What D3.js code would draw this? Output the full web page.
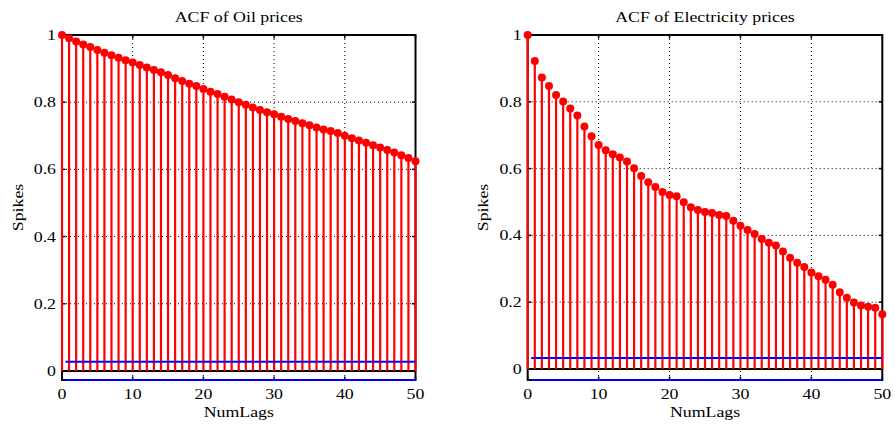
<!DOCTYPE html>
<html>
<head>
<meta charset="utf-8">
<script src="https://cdn.jsdelivr.net/npm/d3@7"></script>
<style>
  html, body { margin: 0; padding: 0; background: #fff; }
  svg { display: block; }
  text { font-family: "Liberation Serif", "Times New Roman", serif; fill: #000; }
</style>
</head>
<body>
<svg id="chart" width="895" height="426"></svg>
<script>
// ---- data ----
const lags = [0,1,2,3,4,5,6,7,8,9,10,11,12,13,14,15,16,17,18,19,20,21,22,23,24,25,26,27,28,29,30,31,32,33,34,35,36,37,38,39,40,41,42,43,44,45,46,47,48,49,50];
const oilAcf = [1.000,0.990,0.981,0.972,0.964,0.955,0.947,0.940,0.932,0.925,0.918,0.911,0.903,0.896,0.889,0.881,0.871,0.863,0.855,0.848,0.839,0.831,0.824,0.816,0.808,0.800,0.792,0.784,0.777,0.770,0.764,0.757,0.750,0.744,0.737,0.731,0.725,0.719,0.714,0.708,0.700,0.693,0.686,0.679,0.672,0.665,0.658,0.650,0.642,0.634,0.624];
const elecAcf = [1.000,0.922,0.873,0.847,0.820,0.801,0.780,0.759,0.726,0.697,0.671,0.655,0.643,0.633,0.621,0.601,0.578,0.559,0.545,0.530,0.521,0.517,0.499,0.484,0.476,0.470,0.467,0.461,0.458,0.444,0.429,0.416,0.404,0.389,0.378,0.370,0.352,0.333,0.318,0.305,0.289,0.278,0.267,0.252,0.230,0.213,0.199,0.190,0.186,0.183,0.164];
const oilBound = 0.027;
const elecBound = 0.033;
const xTicks = [0,10,20,30,40,50];
const yTicks = [0,0.2,0.4,0.6,0.8,1];
const titles = ["ACF of Oil prices", "ACF of Electricity prices"];
const xLabel = "NumLags";
const yLabel = "Spikes";

const svg = d3.select("#chart");
const FS = 15.5, SX = 1.15;

function label(g, x, y, txt, anchor, rot) {
  g.append("text")
    .attr("transform", `translate(${x},${y})${rot ? " rotate(" + rot + ")" : ""} scale(${SX},1)`)
    .attr("text-anchor", anchor).attr("font-size", FS).text(txt);
}

function panel(left, right, values, bound, title) {
  const top = 35, bottom = 380;
  const x = d3.scaleLinear().domain([0, 50]).range([left, right]);
  const y = d3.scaleLinear().domain([-bound, 1]).range([bottom, top]);
  const g = svg.append("g");

  // grid
  g.selectAll(".gx").data(xTicks.filter(t => t > 0 && t < 50)).join("line")
    .attr("x1", d => x(d)).attr("x2", d => x(d)).attr("y1", top).attr("y2", bottom)
    .attr("stroke", "#000").attr("stroke-width", 1).attr("stroke-dasharray", "1,3");
  g.selectAll(".gy").data(yTicks.filter(t => t > 0 && t < 1)).join("line")
    .attr("x1", left).attr("x2", right).attr("y1", d => y(d)).attr("y2", d => y(d))
    .attr("stroke", "#000").attr("stroke-width", 1).attr("stroke-dasharray", "1,3");

  // box
  g.append("rect").attr("x", left).attr("y", top).attr("width", right - left).attr("height", bottom - top)
    .attr("fill", "none").attr("stroke", "#000").attr("stroke-width", 2);

  // ticks (inside, all sides)
  const tl = 3.5;
  xTicks.forEach(t => {
    g.append("line").attr("x1", x(t)).attr("x2", x(t)).attr("y1", bottom).attr("y2", bottom - tl).attr("stroke", "#000").attr("stroke-width", 1.5);
    g.append("line").attr("x1", x(t)).attr("x2", x(t)).attr("y1", top).attr("y2", top + tl).attr("stroke", "#000").attr("stroke-width", 1.5);
  });
  yTicks.forEach(t => {
    g.append("line").attr("x1", left).attr("x2", left + tl).attr("y1", y(t)).attr("y2", y(t)).attr("stroke", "#000").attr("stroke-width", 1.5);
    g.append("line").attr("x1", right).attr("x2", right - tl).attr("y1", y(t)).attr("y2", y(t)).attr("stroke", "#000").attr("stroke-width", 1.5);
  });

  // baseline
  g.append("line").attr("x1", left).attr("x2", right).attr("y1", y(0)).attr("y2", y(0))
    .attr("stroke", "#000").attr("stroke-width", 2);

  // stems
  g.selectAll(".stem").data(values).join("line")
    .attr("x1", (d, i) => x(lags[i])).attr("x2", (d, i) => x(lags[i]))
    .attr("y1", y(0)).attr("y2", d => y(d))
    .attr("stroke", "#ff0000").attr("stroke-width", 2.2);
  g.selectAll(".mk").data(values).join("circle")
    .attr("cx", (d, i) => x(lags[i])).attr("cy", d => y(d)).attr("r", 4)
    .attr("fill", "#ff0000");

  // confidence bounds
  [bound, -bound].forEach(b => {
    g.append("line").attr("x1", x(0.5)).attr("x2", x(50)).attr("y1", y(b)).attr("y2", y(b))
      .attr("stroke", "#0000ff").attr("stroke-width", 2);
  });

  // tick labels
  xTicks.forEach(t => label(g, x(t), 399, String(t), "middle"));
  yTicks.forEach(t => label(g, left - 6, y(t) + 5, d3.format("")(t), "end"));

  // axis labels & title
  label(g, (left + right) / 2, 417, xLabel, "middle");
  label(g, left - 39.5, (top + bottom) / 2, yLabel, "middle", -90);
  label(g, (left + right) / 2, 21.5, title, "middle");
}

panel(62, 415.5, oilAcf, oilBound, titles[0]);
panel(527.7, 882.3, elecAcf, elecBound, titles[1]);
</script>
</body>
</html>
